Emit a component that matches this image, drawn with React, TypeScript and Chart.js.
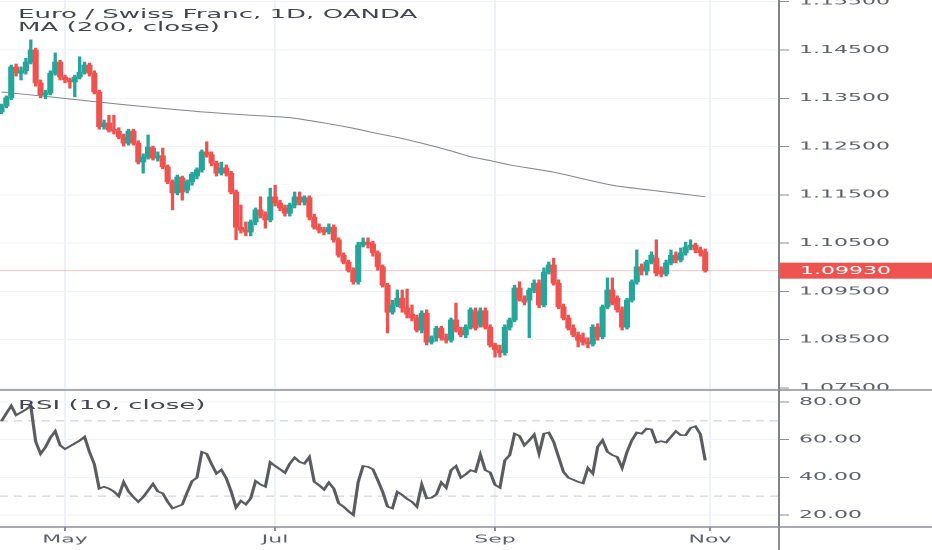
import { useEffect, useRef } from "react";
import { Chart, registerables } from "chart.js";

Chart.register(...registerables);

// daily candles, 12 Apr - 31 Oct (index = trading day)
const OPEN = [
    1.1322, 1.1334, 1.1351, 1.1415, 1.1402, 1.1407, 1.1425, 1.145, 1.1382, 1.1357,
    1.1361, 1.1402, 1.1425, 1.1394, 1.1388, 1.1384, 1.1394, 1.1404, 1.1419, 1.1402,
    1.1363, 1.1291, 1.1299, 1.1286, 1.1282, 1.127, 1.1257, 1.1282, 1.1257, 1.1218,
    1.1228, 1.1247, 1.1226, 1.1231, 1.1208, 1.1177, 1.1154, 1.1185, 1.116, 1.1177,
    1.1189, 1.1202, 1.1239, 1.1233, 1.1216, 1.1195, 1.1206, 1.1195, 1.1156, 1.1083,
    1.1077, 1.1073, 1.1094, 1.1119, 1.1108, 1.1098, 1.1146, 1.1133, 1.1123, 1.1112,
    1.1129, 1.1146, 1.1135, 1.1144, 1.1104, 1.1083, 1.1077, 1.1073, 1.1083, 1.1057,
    1.1025, 1.1011, 1.0994, 1.097, 1.1046, 1.1052, 1.1048, 1.103, 1.1001, 1.0963,
    1.0907, 1.0922, 1.0936, 1.0916, 1.0903, 1.0895, 1.087, 1.0905, 1.0845, 1.0854,
    1.0874, 1.0854, 1.0849, 1.0891, 1.087, 1.086, 1.0876, 1.0907, 1.0881, 1.091,
    1.0876, 1.0839, 1.0829, 1.0823, 1.0876, 1.0891, 1.0957, 1.0934, 1.0932, 1.0953,
    1.0967, 1.0922, 1.099, 1.1005, 1.0967, 1.0918, 1.0895, 1.0874, 1.086, 1.0854,
    1.0845, 1.0841, 1.0876, 1.0856, 1.0918, 1.0953, 1.0936, 1.0912, 1.0876, 1.0932,
    1.097, 1.1001, 1.0992, 1.1011, 1.1019, 1.0993, 1.0986, 1.1009, 1.1025, 1.1015,
    1.103, 1.1042, 1.1046, 1.1036, 1.1032,
];
const HIGH = [
    1.1338, 1.1355, 1.1419, 1.1421, 1.1415, 1.1433, 1.1471, 1.1454, 1.1388, 1.1367,
    1.1407, 1.1444, 1.1429, 1.1398, 1.1392, 1.1398, 1.1436, 1.1425, 1.1423, 1.1407,
    1.1367, 1.1305, 1.1315, 1.1315, 1.1289, 1.1276, 1.1286, 1.1286, 1.1262, 1.1235,
    1.1274, 1.1251, 1.1239, 1.1247, 1.1212, 1.1181, 1.1191, 1.1189, 1.1181, 1.1197,
    1.1206, 1.1243, 1.126, 1.1239, 1.122, 1.1218, 1.1212, 1.1199, 1.116, 1.1129,
    1.1094, 1.1098, 1.1123, 1.1146, 1.1115, 1.1164, 1.117, 1.1139, 1.1129, 1.1133,
    1.1156, 1.1156, 1.1148, 1.1148, 1.111, 1.109, 1.1083, 1.109, 1.1088, 1.1061,
    1.103, 1.1015, 1.0999, 1.1052, 1.1061, 1.1061, 1.1054, 1.1034, 1.1005, 1.0967,
    1.0932, 1.0953, 1.0953, 1.0955, 1.0922, 1.0901, 1.091, 1.0912, 1.0858, 1.0878,
    1.0878, 1.0862, 1.0895, 1.0926, 1.0876, 1.0881, 1.0916, 1.0916, 1.0916, 1.0916,
    1.0881, 1.0843, 1.0839, 1.0881, 1.0895, 1.0963, 1.097, 1.0941, 1.0957, 1.0974,
    1.0974, 1.0999, 1.1011, 1.1019, 1.0974, 1.0924, 1.0901, 1.0881, 1.0866, 1.0864,
    1.0854, 1.0881, 1.0883, 1.0922, 1.0978, 1.0978, 1.0941, 1.0918, 1.0936, 1.0974,
    1.1036, 1.1007, 1.1015, 1.1032, 1.1057, 1.1001, 1.1015, 1.1036, 1.1032, 1.104,
    1.1052, 1.1057, 1.105, 1.1042, 1.1038,
];
const LOW = [
    1.1318, 1.133, 1.1347, 1.1396, 1.1388, 1.14, 1.1421, 1.1375, 1.1351, 1.1349,
    1.1357, 1.1398, 1.1388, 1.1382, 1.1371, 1.1353, 1.139, 1.14, 1.1396, 1.1359,
    1.1286, 1.1286, 1.128, 1.1276, 1.1266, 1.1251, 1.1253, 1.1253, 1.1214, 1.1195,
    1.1224, 1.1222, 1.122, 1.1204, 1.1173, 1.1119, 1.115, 1.1139, 1.1154, 1.117,
    1.1183, 1.1197, 1.1228, 1.121, 1.1189, 1.1191, 1.1189, 1.1152, 1.1057, 1.1071,
    1.1065, 1.1065, 1.1088, 1.1102, 1.1081, 1.1094, 1.1127, 1.1117, 1.1106, 1.1106,
    1.1123, 1.1129, 1.1129, 1.1098, 1.1079, 1.1071, 1.1067, 1.1069, 1.1052, 1.1021,
    1.1007, 1.099, 1.0965, 1.0965, 1.1042, 1.104, 1.1023, 1.0994, 1.0959, 1.0864,
    1.0903, 1.0918, 1.0907, 1.0895, 1.0889, 1.0866, 1.0864, 1.0839, 1.0841, 1.0847,
    1.0849, 1.0843, 1.0845, 1.0866, 1.0856, 1.0854, 1.0872, 1.087, 1.0876, 1.0872,
    1.0835, 1.0814, 1.0814, 1.0818, 1.087, 1.0887, 1.093, 1.0922, 1.0854, 1.0947,
    1.0916, 1.0918, 1.0986, 1.0963, 1.0914, 1.0891, 1.087, 1.0856, 1.0835, 1.0839,
    1.0833, 1.0837, 1.0849, 1.0852, 1.0914, 1.0922, 1.0907, 1.087, 1.0872, 1.0928,
    1.0965, 1.0984, 1.0984, 1.1007, 1.0982, 1.098, 1.0982, 1.1005, 1.1009, 1.1011,
    1.1025, 1.1036, 1.103, 1.1023, 1.099,
];
const CLOSE = [
    1.1334, 1.1351, 1.1415, 1.1402, 1.1407, 1.1425, 1.145, 1.1382, 1.1357, 1.1361,
    1.1402, 1.1425, 1.1394, 1.1388, 1.1384, 1.1394, 1.1404, 1.1419, 1.1402, 1.1363,
    1.1291, 1.1299, 1.1284, 1.1282, 1.127, 1.1257, 1.1282, 1.1257, 1.1218, 1.1228,
    1.1249, 1.1226, 1.1231, 1.1208, 1.1177, 1.1154, 1.1187, 1.1156, 1.1177, 1.1193,
    1.1202, 1.1239, 1.1233, 1.1216, 1.1195, 1.1206, 1.1195, 1.1156, 1.1083, 1.1077,
    1.1073, 1.1094, 1.1119, 1.1108, 1.1098, 1.1146, 1.1133, 1.1123, 1.1112, 1.1129,
    1.1146, 1.1135, 1.1144, 1.1104, 1.1083, 1.1077, 1.1073, 1.1083, 1.1057, 1.1025,
    1.1011, 1.0994, 1.097, 1.1046, 1.1052, 1.1048, 1.103, 1.1001, 1.0963, 1.0907,
    1.0922, 1.0936, 1.0916, 1.0903, 1.0895, 1.087, 1.0905, 1.0845, 1.0854, 1.0874,
    1.0854, 1.0849, 1.0891, 1.087, 1.086, 1.0876, 1.0912, 1.0874, 1.091, 1.0876,
    1.0839, 1.0829, 1.0823, 1.0876, 1.0891, 1.0957, 1.0934, 1.0928, 1.0953, 1.0967,
    1.0922, 1.099, 1.1005, 1.0967, 1.0918, 1.0895, 1.0874, 1.086, 1.0849, 1.0845,
    1.0841, 1.0876, 1.0856, 1.0918, 1.0953, 1.0926, 1.0912, 1.0876, 1.0932, 1.097,
    1.1001, 1.0992, 1.1011, 1.1025, 1.0988, 1.0986, 1.1009, 1.1025, 1.1015, 1.103,
    1.1042, 1.1046, 1.1036, 1.103, 1.0993,
];

// MA(200) read at a handful of bars
const MA_BARS = [0, 10, 20, 30, 41, 51, 59, 66, 72, 76, 81, 86, 92, 96, 100, 104, 113, 125, 136, 144];
const MA_VALUES = [
    1.1363, 1.1353, 1.1342, 1.1332, 1.1322, 1.1315, 1.131, 1.1299, 1.1288, 1.1279,
    1.1269, 1.1257, 1.1241, 1.1229, 1.1221, 1.1212, 1.1197, 1.117, 1.1156, 1.1146,
];

const RSI = [
    69.8, 74, 78, 73, 74.5, 76, 78, 59, 52.5, 56,
    61, 64.5, 57, 55, 56.5, 58, 59.5, 61.5, 53.5, 47,
    34, 35, 34, 32.5, 30, 37.5, 32.5, 29.5, 27, 29.5,
    33, 36.5, 32.5, 31.5, 27, 23.5, 24.5, 25.5, 32, 38,
    39.8, 53.5, 52.5, 47, 42, 44, 39.5, 32.5, 24, 27.5,
    25.6, 28.8, 38, 36.2, 35, 48, 46, 44.3, 42.4, 47.3,
    50.5, 48.2, 47.3, 50.8, 37.6, 35.8, 33.5, 37.2, 34, 26.2,
    24.4, 22, 20, 37.6, 46, 45.6, 44.3, 38.5, 32.3, 24.4,
    23.5, 32.3, 30.6, 28.5, 27, 24.4, 36.2, 28.8, 29.2, 30.9,
    37.3, 34.5, 43.8, 46, 39.8, 41.6, 43.8, 42.9, 52, 43.8,
    42.6, 36, 34.5, 49, 51.8, 63.2, 62, 57, 59.7, 62.7,
    52.6, 63.2, 63.8, 58.8, 50.8, 42.9, 39.8, 38.7, 37.6, 36.8,
    45, 42, 56.2, 59.7, 53.5, 51.8, 50.8, 45, 53.5, 59.7,
    63.8, 63.2, 65.9, 65.5, 58.5, 59.2, 58.5, 61.5, 64.5, 62.4,
    62.4, 66.2, 67.1, 63, 49,
];
const RSI_LEVELS = [70, 30];

const PRICE_TICKS = [1.075, 1.085, 1.095, 1.105, 1.115, 1.125, 1.135, 1.145, 1.155];
const RSI_TICKS = [20, 40, 60, 80];
const MONTH_BARS = [13, 56, 101, 145];
const MONTH_LABELS = ["May", "Jul", "Sep", "Nov"];

const UP = "#26a69a";
const DOWN = "#ef5350";
const AXIS_TEXT = "#5d606b";
const FONT = "'DejaVu Sans', sans-serif";
const X_MIN = -0.3;
const X_MAX = 159.1;

export default function App() {
    const canvasRef = useRef<HTMLCanvasElement | null>(null);

    useEffect(() => {
        if (!canvasRef.current) {
            return;
        }

        const colors = CLOSE.map((c, i) => (c >= OPEN[i] ? UP : DOWN));
        const last = CLOSE.length - 1;
        const lastClose = CLOSE[last];

        const paneDecor = {
            id: "paneDecor",
            beforeDatasetsDraw(chart: any) {
                const { ctx, chartArea, scales } = chart;
                const y = scales.y.getPixelForValue(lastClose);
                ctx.save();
                ctx.strokeStyle = "rgba(239, 83, 80, 0.35)";
                ctx.lineWidth = 1;
                ctx.beginPath();
                ctx.moveTo(chartArea.left, y);
                ctx.lineTo(chartArea.right, y);
                ctx.stroke();
                ctx.restore();
            },
            afterDraw(chart: any) {
                const { ctx, chartArea, scales, width, height } = chart;
                const sep = scales.rsi.top;
                ctx.save();
                // hide the lower half of the bottom price label, like the pane cut
                ctx.fillStyle = "#fff";
                ctx.fillRect(chartArea.right + 1, sep, width - chartArea.right, 6);
                ctx.strokeStyle = "#8b8e96";
                ctx.lineWidth = 1.5;
                ctx.beginPath();
                ctx.moveTo(0, sep);
                ctx.lineTo(width, sep);
                ctx.moveTo(0, chartArea.bottom);
                ctx.lineTo(width, chartArea.bottom);
                ctx.stroke();
                ctx.lineWidth = 1;
                ctx.beginPath();
                ctx.moveTo(chartArea.right, chartArea.bottom);
                ctx.lineTo(chartArea.right, height);
                ctx.stroke();

                // last price tag
                const y = scales.y.getPixelForValue(lastClose);
                ctx.fillStyle = colors[last];
                ctx.fillRect(chartArea.right + 0.5, y - 8, width - chartArea.right, 16);
                ctx.fillStyle = "#fff";
                ctx.font = `11px ${FONT}`;
                ctx.textBaseline = "middle";
                ctx.fillText(lastClose.toFixed(5), chartArea.right + 10.5, y + 0.5);
                ctx.restore();
            },
        };

        const tickFont = { family: FONT, size: 11 };
        const fitRight = (scale: any) => {
            scale.width = 76.5;
            scale.paddingTop = 0;
            scale.paddingBottom = 0;
        };

        const chart = new Chart(canvasRef.current, {
            type: "bar",
            data: {
                datasets: [
                    {
                        label: "body",
                        data: CLOSE.map((c, i) => ({ x: i, y: [OPEN[i], c] })) as any,
                        backgroundColor: colors,
                        barThickness: 2.4,
                        minBarLength: 1,
                        grouped: false,
                        yAxisID: "y",
                    },
                    {
                        label: "wick",
                        data: CLOSE.map((_, i) => ({ x: i, y: [LOW[i], HIGH[i]] })) as any,
                        backgroundColor: colors,
                        barThickness: 1,
                        grouped: false,
                        yAxisID: "y",
                    },
                    {
                        type: "line",
                        label: "MA (200, close)",
                        data: MA_BARS.map((b, i) => ({ x: b, y: MA_VALUES[i] })),
                        borderColor: "#85878d",
                        borderWidth: 1,
                        pointRadius: 0,
                        tension: 0.2,
                        yAxisID: "y",
                    },
                    {
                        type: "line",
                        label: "RSI (10, close)",
                        data: RSI.map((v, i) => ({ x: i, y: v })),
                        borderColor: "#5a5c62",
                        borderWidth: 1.6,
                        pointRadius: 0,
                        tension: 0,
                        yAxisID: "rsi",
                    },
                    ...RSI_LEVELS.map((lvl) => ({
                        type: "line" as const,
                        label: `level ${lvl}`,
                        data: [
                            { x: X_MIN, y: lvl },
                            { x: X_MAX, y: lvl },
                        ],
                        borderColor: "#c9cbd1",
                        borderWidth: 1,
                        borderDash: [4, 3],
                        pointRadius: 0,
                        yAxisID: "rsi",
                    })),
                ] as any,
            },
            options: {
                responsive: true,
                maintainAspectRatio: false,
                animation: false,
                devicePixelRatio: 2,
                events: [],
                layout: { padding: 0, autoPadding: false },
                plugins: {
                    legend: { display: false },
                    tooltip: { enabled: false },
                },
                scales: {
                    x: {
                        type: "linear",
                        min: X_MIN,
                        max: X_MAX,
                        offset: false,
                        grid: {
                            offset: false,
                            color: "#edf1f8",
                            tickColor: "#8b8e96",
                            tickLength: 4,
                        },
                        border: { display: false },
                        ticks: {
                            autoSkip: false,
                            maxRotation: 0,
                            padding: 2,
                            color: AXIS_TEXT,
                            font: tickFont,
                            callback: (_v: any, i: number) => MONTH_LABELS[i],
                        },
                        afterBuildTicks: (scale: any) => {
                            scale.ticks = MONTH_BARS.map((value) => ({ value }));
                        },
                        afterFit: (scale: any) => {
                            scale.height = 23;
                            scale.paddingLeft = 0;
                            scale.paddingRight = 0;
                        },
                    },
                    y: {
                        type: "linear",
                        position: "right",
                        stack: "pane",
                        stackWeight: 390,
                        min: 1.07459,
                        max: 1.15536,
                        beginAtZero: false,
                        grid: {
                            color: "#f0f3fa",
                            tickColor: "#8b8e96",
                            tickLength: 5,
                        },
                        border: { color: "#80838b", width: 1 },
                        ticks: {
                            padding: 5,
                            color: AXIS_TEXT,
                            font: tickFont,
                            callback: (v: any) => Number(v).toFixed(5),
                        },
                        afterBuildTicks: (scale: any) => {
                            scale.ticks = PRICE_TICKS.map((value) => ({ value }));
                        },
                        afterFit: fitRight,
                    },
                    rsi: {
                        type: "linear",
                        position: "right",
                        stack: "pane",
                        stackWeight: 137,
                        min: 13.6,
                        max: 86.4,
                        grid: {
                            color: "#f0f3fa",
                            tickColor: "#8b8e96",
                            tickLength: 5,
                        },
                        border: { color: "#80838b", width: 1 },
                        ticks: {
                            padding: 5,
                            color: AXIS_TEXT,
                            font: tickFont,
                            callback: (v: any) => Number(v).toFixed(2),
                        },
                        afterBuildTicks: (scale: any) => {
                            scale.ticks = RSI_TICKS.map((value) => ({ value }));
                        },
                        afterFit: fitRight,
                    },
                },
            } as any,
            plugins: [paneDecor],
        });

        return () => chart.destroy();
    }, []);

    const legendText = {
        position: "absolute" as const,
        left: 9,
        font: `13px ${FONT}`,
        lineHeight: "13px",
        color: "#434651",
        whiteSpace: "nowrap" as const,
    };

    // the reference picture is stretched 2x horizontally, so is this one
    return (
        <div
            style={{
                position: "fixed",
                left: 0,
                top: 0,
                width: 466,
                height: 550,
                transform: "scaleX(2)",
                transformOrigin: "0 0",
                background: "#fff",
            }}
        >
            <canvas ref={canvasRef} style={{ display: "block" }} />
            <div style={{ ...legendText, top: 7 }}>
                Euro / Swiss Franc, 1D, OANDA
                <br />
                MA (200, close)
            </div>
            <div style={{ ...legendText, top: 398 }}>RSI (10, close)</div>
        </div>
    );
}
